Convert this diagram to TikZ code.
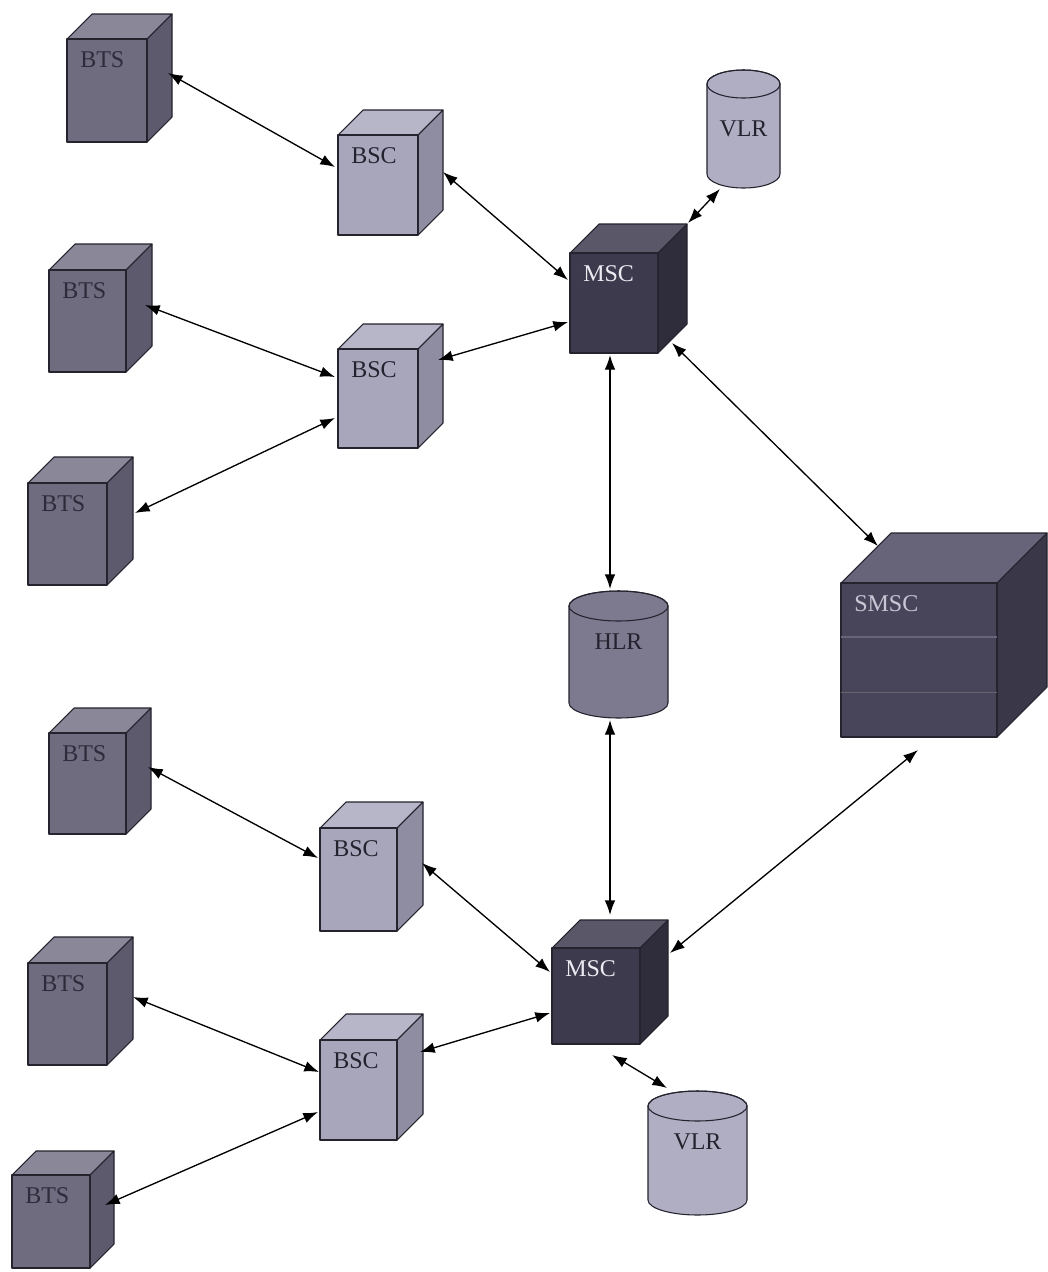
\documentclass[tikz,border=0pt]{standalone}
\usepackage{fontspec}
\setmainfont{Liberation Serif}
\usetikzlibrary{arrows.meta}
\definecolor{edge}{HTML}{25232E}
\definecolor{btsfront}{HTML}{6F6C80}
\definecolor{btstop}{HTML}{8A8799}
\definecolor{btsside}{HTML}{5D5A6D}
\definecolor{btstext}{HTML}{2E2C3A}
\definecolor{bscfront}{HTML}{A8A6BB}
\definecolor{bsctop}{HTML}{B7B5C8}
\definecolor{bscside}{HTML}{8F8DA2}
\definecolor{bsctext}{HTML}{24222E}
\definecolor{mscfront}{HTML}{3D3A4D}
\definecolor{msctop}{HTML}{5A5769}
\definecolor{mscside}{HTML}{2F2C3C}
\definecolor{msctext}{HTML}{ECEBF2}
\definecolor{smscfront}{HTML}{48455A}
\definecolor{smsctop}{HTML}{67647A}
\definecolor{smscside}{HTML}{3A3749}
\definecolor{smsctext}{HTML}{C8C6D4}
\definecolor{vlrbody}{HTML}{B0AEC3}
\definecolor{vlrtext}{HTML}{24222E}
\definecolor{hlrbody}{HTML}{7D7A8F}
\definecolor{hlrtext}{HTML}{24222E}
\tikzset{
  arr/.style={{Latex[length=11pt,width=8pt]}-{Latex[length=11pt,width=8pt]}, line width=1pt, draw=black},
  lbl/.style={font=\fontsize{18}{18}\selectfont, inner sep=0pt, anchor=west},
  face/.style={draw=edge, line width=0.8pt, line join=round},
}
% #1 name, #2 x1, #3 y1, #4 x2, #5 y2, #6 depth, #7 colour prefix, #8 label
\newcommand\mkcube[8]{%
  \filldraw[face, fill=#7top] (#2,#3) -- (#2+#6,#3-#6) -- (#4+#6,#3-#6) -- (#4,#3) -- cycle;
  \filldraw[face, fill=#7side] (#4,#3) -- (#4+#6,#3-#6) -- (#4+#6,#5-#6) -- (#4,#5) -- cycle;
  \node[face, fill=#7front, inner sep=0pt, outer sep=0pt,
        minimum width={(#4-#2)*0.75pt}, minimum height={(#5-#3)*0.75pt},
        anchor=north west] (#1) at (#2,#3) {};
  \node[lbl, text=#7text] (#1-t) at (#2+13,#3+21) {#8};
}
% #1 name, #2 x1, #3 x2, #4 ytop, #5 ybot, #6 ry (px), #7 colour prefix, #8 label, #9 label y
\newcommand\mkcyl[9]{%
  \filldraw[face, fill=#7body] (#2,#4+#6)
     -- (#2,#5-#6) arc[start angle=180, end angle=360, x radius={(#3-#2)*0.375pt}, y radius={#6*0.75pt}]
     -- (#3,#4+#6) arc[start angle=0, end angle=180, x radius={(#3-#2)*0.375pt}, y radius={#6*0.75pt}]
     -- cycle;
  \draw[face] ({(#2+#3)/2},#4+#6) ellipse[x radius={(#3-#2)*0.375pt}, y radius={#6*0.75pt}];
  \node[inner sep=0pt, outer sep=0pt, minimum width={(#3-#2)*0.75pt}, minimum height={(#5-#4)*0.75pt},
        anchor=north west] (#1) at (#2,#4) {};
  \node[lbl, anchor=center, text=#7text] (#1-t) at ({(#2+#3)/2},#9) {#8};
}
\begin{document}
\begin{tikzpicture}[x=0.75pt, y=-0.75pt]
\useasboundingbox (0,0) rectangle (1047,1272);
\fill[white] (0,0) rectangle (1047,1272);

% cubes
\mkcube{bts1}{67}{39}{147}{142}{25}{bts}{BTS}
\mkcube{bsc1}{338}{135}{418}{235}{25}{bsc}{BSC}
\mkcube{msc1}{570}{253}{658}{353}{29}{msc}{MSC}
\mkcube{bts2}{49}{270}{126}{372}{26}{bts}{BTS}
\mkcube{bsc2}{338}{349}{418}{448}{25}{bsc}{BSC}
\mkcube{bts3}{28}{483}{107}{585}{26}{bts}{BTS}
\mkcube{smsc}{841}{583}{997}{737}{50}{smsc}{SMSC}
\draw[line width=1pt, draw=smsctop] (smsc.west |- 0,637) -- (smsc.east |- 0,637);
\draw[line width=0.6pt, draw=edge!70] (smsc.west |- 0,692) -- (smsc.east |- 0,692);
\mkcube{bts4}{49}{733}{126}{834}{25}{bts}{BTS}
\mkcube{bsc3}{320}{828}{397}{931}{26}{bsc}{BSC}
\mkcube{bts5}{28}{963}{107}{1065}{26}{bts}{BTS}
\mkcube{bsc4}{320}{1040}{397}{1140}{26}{bsc}{BSC}
\mkcube{msc2}{552}{948}{640}{1044}{28}{msc}{MSC}
\mkcube{bts6}{12}{1175}{90}{1268}{24}{bts}{BTS}

% cylinders
\mkcyl{vlr1}{707}{780}{70}{188}{14}{vlr}{VLR}{129}
\mkcyl{hlr}{569}{668}{591}{718}{15}{hlr}{HLR}{642}
\mkcyl{vlr2}{648}{747}{1091}{1215}{15}{vlr}{VLR}{1142}

% connectors
\draw[arr] ([shift={(101,34)}]bts1.north west) -- ([shift={(-3,32)}]bsc1.north west);
\draw[arr] ([shift={(105,37)}]bsc1.north west) -- ([shift={(-2,27)}]msc1.north west);
\draw[arr] ([shift={(118,-30)}]msc1.north west) -- ([shift={(13,119)}]vlr1.north west);
\draw[arr] ([shift={(96,35)}]bts2.north west) -- ([shift={(-3,28)}]bsc2.north west);
\draw[arr] ([shift={(100,11)}]bsc2.north west) -- ([shift={(-2,69)}]msc1.north west);
\draw[arr] ([shift={(107,30)}]bts3.north west) -- ([shift={(-3,69)}]bsc2.north west);
\draw[arr] ([shift={(40,102)}]msc1.north west) -- ([shift={(41,-2)}]hlr.north west);
\draw[arr] ([shift={(102,90)}]msc1.north west) -- ([shift={(37,-37)}]smsc.north west);
\draw[arr] ([shift={(41,129)}]hlr.north west) -- ([shift={(58,-33)}]msc2.north west);
\draw[arr] ([shift={(77,167)}]smsc.north west) -- ([shift={(118,5)}]msc2.north west);
\draw[arr] ([shift={(99,34)}]bts4.north west) -- ([shift={(-2,30)}]bsc3.north west);
\draw[arr] ([shift={(102,35)}]bsc3.north west) -- ([shift={(-2,24)}]msc2.north west);
\draw[arr] ([shift={(105,34)}]bts5.north west) -- ([shift={(-1,32)}]bsc4.north west);
\draw[arr] ([shift={(100,12)}]bsc4.north west) -- ([shift={(-2,65)}]msc2.north west);
\draw[arr] ([shift={(93,30)}]bts6.north west) -- ([shift={(-2,72)}]bsc4.north west);
\draw[arr] ([shift={(60,107)}]msc2.north west) -- ([shift={(19,-3)}]vlr2.north west);
\end{tikzpicture}
\end{document}
